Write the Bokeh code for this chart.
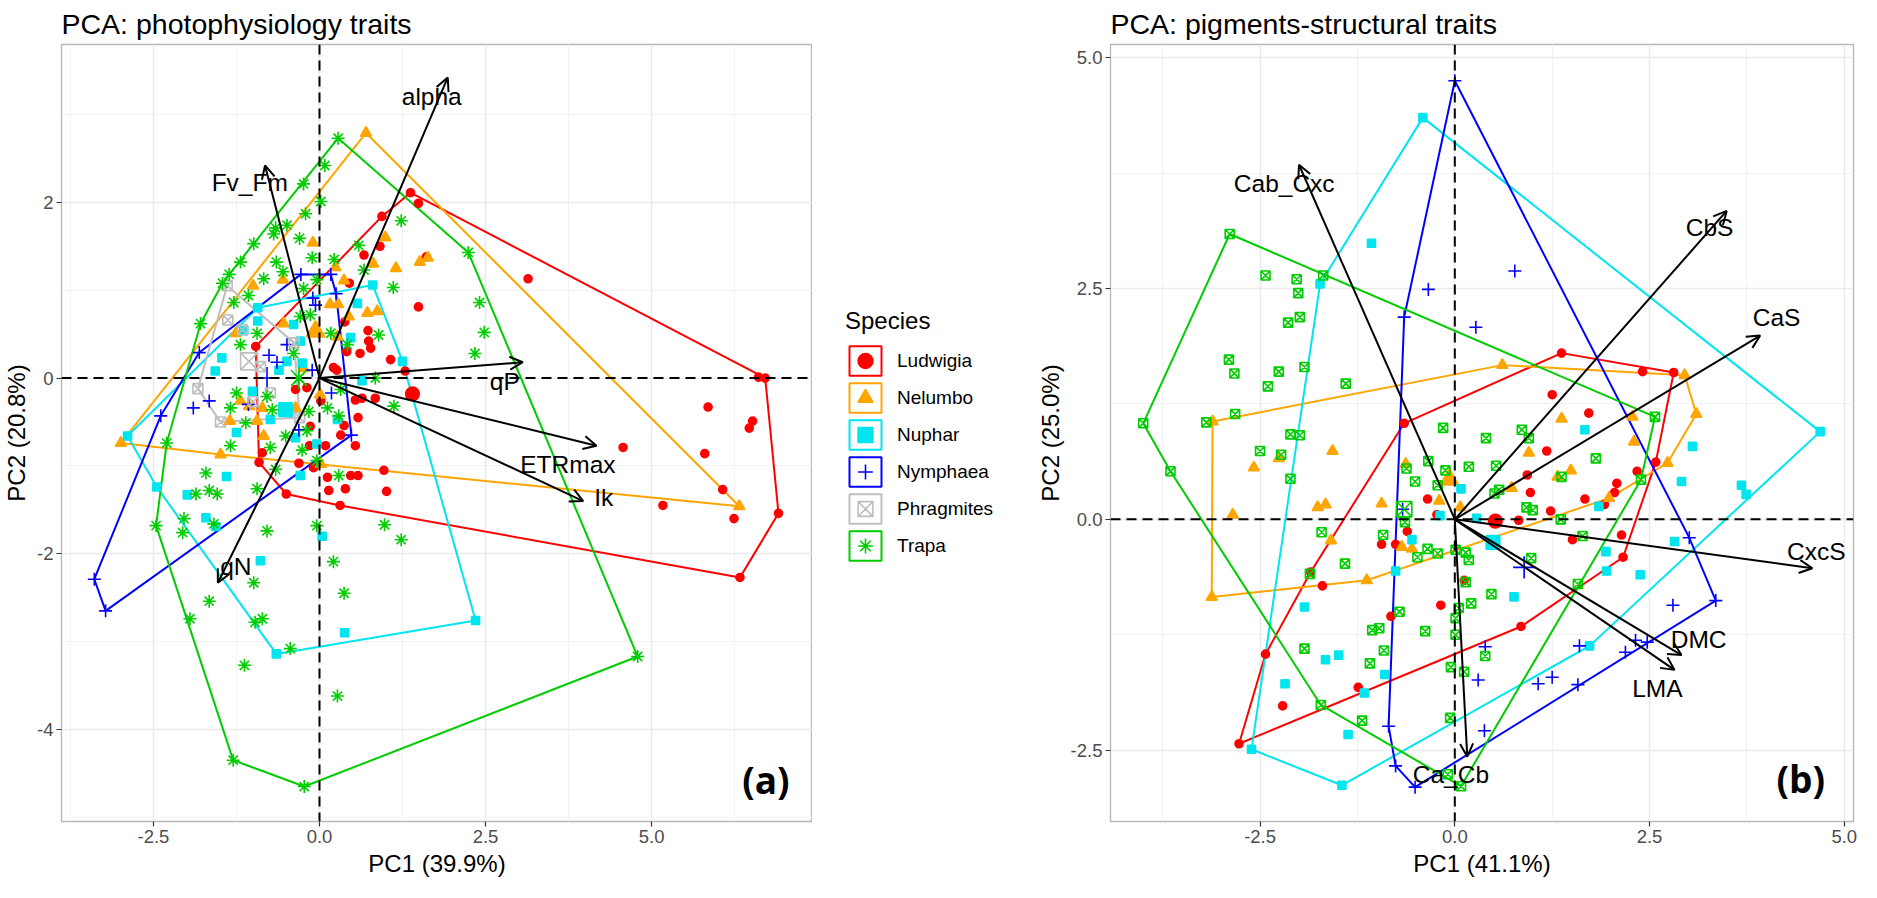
from bokeh.plotting import figure
from bokeh.models import (Range1d, FixedTicker, Span, Arrow, OpenHead, ColumnDataSource,
                          Legend, LegendItem)
from bokeh.layouts import row
from bokeh.embed import file_html
from bokeh.resources import INLINE
from bokeh.core.properties import value

FONT = "Liberation Sans"

SPECIES = ["Ludwigia", "Nelumbo", "Nuphar", "Nymphaea", "Phragmites", "Trapa"]
COLORS = {"Ludwigia": "#FF0000", "Nelumbo": "#FFA500", "Nuphar": "#00E5EE",
          "Nymphaea": "#0000FF", "Phragmites": "#BEBEBE", "Trapa": "#00CD00"}

# ---------------- Panel (a): photophysiology traits ----------------
A_LUDWIGIA = [(-0.96, 0.36), (0.94, 1.84), (1.37, 2.11), (1.49, 1.99), (6.61, 0.01), (6.71, 0.0),
              (6.91, -1.54), (6.33, -2.27), (0.31, -1.45), (-0.50, -1.32), (-0.91, -0.96), (0.67, 1.40),
              (0.91, 1.50), (1.61, 1.38), (0.45, 1.08), (1.49, 0.81), (0.38, 0.64), (0.73, 0.54),
              (0.74, 0.42), (0.77, 0.34), (0.61, 0.28), (0.41, 0.30), (1.07, 0.21), (0.21, 0.12),
              (0.26, 0.09), (-0.36, -0.13), (-0.19, -0.11), (0.02, -0.26), (0.54, -0.25), (0.64, -0.23),
              (0.84, -0.23), (0.58, -0.45), (0.37, -0.54), (0.32, -0.65), (0.54, -0.77), (-0.15, -0.77),
              (0.09, -0.77), (-0.14, -0.55), (-0.31, -0.97), (-0.09, -1.02), (0.12, -1.13), (0.14, -1.28),
              (0.39, -1.26), (0.47, -1.11), (0.58, -1.11), (0.97, -1.05), (1.01, -1.29), (-0.86, -0.85),
              (1.29, 0.08), (3.14, 1.13), (5.85, -0.33), (6.52, -0.49), (6.47, -0.57), (4.57, -0.79),
              (5.80, -0.86), (6.07, -1.27), (5.17, -1.45), (6.24, -1.60)]
A_NELUMBO = [(0.70, 2.79), (6.32, -1.46), (0.02, -0.98), (-1.49, -0.87), (-2.99, -0.74), (-0.10, 1.54),
             (0.99, 1.60), (0.81, 1.30), (1.15, 1.25), (1.51, 1.32), (1.63, 1.37), (0.24, 1.26),
             (-0.55, 1.12), (-1.00, 1.05), (0.37, 1.11), (0.16, 0.84), (0.28, 0.84), (0.72, 0.74),
             (0.87, 0.76), (0.44, 0.70), (-0.54, 0.62), (-1.26, 0.51), (0.27, 0.47), (-1.19, -0.26),
             (-1.06, -0.32), (-0.86, -0.34), (-0.94, -0.49), (-1.35, -0.49), (-0.84, -0.66),
             (-0.36, -0.34), (0.01, -0.19), (-0.24, 0.11)]
A_NUPHAR = [(-0.93, 0.80), (0.80, 1.06), (1.25, 0.19), (2.35, -2.76), (-0.65, -3.14), (-2.89, -0.66),
            (0.57, 0.85), (0.47, 0.46), (-0.29, 0.42), (-0.39, 0.61), (-0.93, 0.65), (-1.14, 0.54),
            (-1.47, 0.23), (-1.57, 0.08), (-1.01, -0.15), (-0.61, 0.09), (-0.49, 0.19), (-0.26, 0.17),
            (-0.74, -0.47), (-1.25, -0.62), (-0.36, -0.68), (0.27, -0.47), (-0.04, -0.75), (-0.29, -1.11),
            (-1.40, -1.12), (-1.99, -1.33), (-2.45, -1.24), (-1.71, -1.59), (-1.56, -1.69), (0.04, -1.80),
            (0.64, -0.03), (-0.89, -2.08), (0.38, -2.90)]
A_NYMPHAEA = [(-0.28, 1.18), (0.17, 1.18), (0.25, 0.96), (0.48, -0.65), (-3.22, -2.65), (-3.39, -2.29),
              (-2.39, -0.43), (-1.81, 0.29), (-0.10, 0.91), (-0.06, 0.83), (-0.49, 0.38), (-0.76, 0.26),
              (-0.64, 0.18), (-0.11, 0.09), (0.18, -0.17), (-0.31, -0.59), (-1.66, -0.26), (-1.90, -0.34),
              (-1.07, -0.30)]
A_PHRAGMITES = [(-1.39, 1.05), (-0.38, 0.40), (-0.30, -0.45), (-1.49, -0.50), (-1.83, -0.12),
                (-1.38, 0.66), (-1.16, 0.55), (-0.89, 0.13), (-0.74, -0.17), (-1.00, -0.27)]
A_TRAPA = [(0.28, 2.73), (2.24, 1.43), (4.79, -3.17), (-0.23, -4.65), (-1.30, -4.35), (-2.46, -1.68),
           (-2.30, -0.74), (-1.79, 0.62), (-1.46, 1.08), (-0.99, 1.53), (-0.24, 2.21), (0.08, 2.42),
           (0.02, 2.01), (-0.21, 1.87), (-0.66, 1.71), (-0.49, 1.74), (-0.30, 1.59), (-0.69, 1.64),
           (-1.19, 1.32), (-1.36, 1.18), (-0.65, 1.32), (-0.55, 1.21), (-0.84, 1.13), (-1.07, 0.94),
           (-1.29, 0.86), (-0.11, 1.37), (0.22, 1.35), (0.59, 1.51), (1.23, 1.79), (0.67, 1.23),
           (1.11, 1.03), (-0.04, 1.12), (-0.24, 1.02), (-0.14, 0.72), (-0.29, 0.70), (0.17, 0.51),
           (0.89, 0.49), (0.42, 0.38), (-0.94, 0.51), (-1.19, 0.38), (-0.39, 0.28), (-0.31, 0.0),
           (0.84, 0.0), (0.32, -0.13), (-1.25, -0.17), (-1.34, -0.34), (-0.79, -0.21), (-0.71, -0.36),
           (-1.11, -0.51), (-0.16, -0.38), (0.12, -0.34), (0.29, -0.43), (1.12, -0.32), (-0.19, -0.60),
           (-0.51, -0.66), (-0.74, -0.79), (-1.34, -0.77), (-0.26, -0.82), (-0.04, -0.94), (-0.66, -1.04),
           (0.29, -1.11), (-1.71, -1.08), (-1.66, -1.28), (-1.54, -1.32), (-1.86, -1.32), (-0.94, -1.26),
           (-2.04, -1.60), (-2.06, -1.76), (-1.59, -1.66), (-0.79, -1.74), (-0.04, -1.68), (0.98, -1.67),
           (1.23, -1.84), (2.41, 0.86), (2.48, 0.52), (2.34, 0.28), (0.21, -2.09), (0.37, -2.45),
           (-0.99, -2.33), (-1.66, -2.54), (-1.95, -2.74), (-0.86, -2.74), (-0.97, -2.78), (-0.44, -3.08),
           (-1.13, -3.27), (0.27, -3.62)]
A_CENTROIDS = {"Ludwigia": (1.40, -0.18), "Nelumbo": (-0.06, 0.53), "Nuphar": (-0.51, -0.36),
               "Nymphaea": (-0.79, 0.0), "Phragmites": (-1.06, 0.19), "Trapa": (-0.31, 0.0)}

A_VARS = ["alpha", "Fv_Fm", "qP", "ETRmax", "Ik", "qN"]
A_LOAD_PC1 = [1.93, -0.82, 3.06, 4.17, 3.97, -1.53]
A_LOAD_PC2 = [3.42, 2.42, 0.18, -0.77, -1.40, -2.33]
A_LABEL_PC1 = [1.69, -1.05, 2.79, 3.74, 4.28, -1.26]
A_LABEL_PC2 = [3.20, 2.23, -0.04, -0.98, -1.36, -2.14]

# ---------------- Panel (b): pigments-structural traits ----------------
B_LUDWIGIA = [(1.37, 1.80), (2.41, 1.60), (2.81, 1.59), (2.58, 0.62), (2.16, -0.41), (0.85, -1.16),
              (-2.77, -2.43), (-2.43, -1.46), (-1.85, -0.57), (-0.65, 1.04), (1.25, 1.35), (1.72, 1.15),
              (1.18, 0.74), (0.93, 0.48), (0.97, 0.29), (1.23, 0.09), (1.67, 0.22), (1.92, 0.16),
              (2.05, 0.29), (2.08, 0.39), (2.34, 0.52), (0.82, -0.01), (1.51, -0.22), (2.14, -0.17),
              (-0.35, 0.22), (-0.23, 0.05), (-0.61, -0.13), (-0.94, -0.27), (-0.76, -0.27), (-1.70, -0.72),
              (-0.18, -0.93), (-0.82, -1.05), (-1.24, -1.82), (-2.21, -2.02), (0.12, -0.66)]
B_NELUMBO = [(0.61, 1.67), (2.95, 1.56), (3.10, 1.14), (2.73, 0.61), (1.98, 0.23), (-1.13, -0.66),
             (-3.12, -0.84), (-3.11, 1.06), (1.37, 1.09), (2.28, 1.11), (2.30, 0.84), (0.95, 0.72),
             (0.73, 0.34), (1.32, 0.46), (1.49, 0.53), (-2.58, 0.56), (-2.26, 0.66), (-1.57, 0.74),
             (-2.85, 0.05), (-1.76, 0.13), (-1.66, 0.16), (-0.94, 0.17), (-0.63, 0.60), (-0.20, 0.20),
             (0.07, 0.13), (-1.59, -0.23), (-0.68, -0.30), (-0.55, -0.32)]
B_NUPHAR = [(-0.41, 4.35), (4.69, 0.95), (1.73, -1.37), (-1.45, -2.88), (-2.61, -2.49), (-1.73, 2.55),
            (-1.07, 2.99), (1.67, 0.97), (3.05, 0.79), (2.91, 0.41), (3.68, 0.37), (3.74, 0.27),
            (1.85, 0.14), (2.82, -0.24), (1.94, -0.35), (1.95, -0.56), (2.38, -0.60), (0.76, -0.84),
            (0.28, 0.01), (0.08, 0.33), (-0.55, -0.22), (-0.76, -0.56), (-1.93, -0.95), (-1.66, -1.52),
            (-1.49, -1.47), (-2.18, -1.78), (-0.90, -1.68), (-1.16, -1.88), (-1.37, -2.33), (-0.19, 0.04)]
B_NYMPHAEA = [(0.0, 4.75), (3.35, -0.88), (-0.51, -2.90), (-0.76, -2.67), (-0.85, -2.24), (-0.65, 2.19),
              (-0.34, 2.49), (0.27, 2.08), (0.77, 2.69), (0.39, -1.38), (0.30, -1.74), (0.38, -2.29),
              (3.01, -0.20), (2.80, -0.93), (2.32, -1.31), (2.47, -1.33), (2.19, -1.44), (1.60, -1.37),
              (1.07, -1.78), (1.25, -1.71), (1.58, -1.79), (-0.67, 0.11)]
B_TRAPA = [(-2.89, 3.09), (2.57, 1.11), (2.39, 0.43), (0.08, -2.89), (-0.09, -2.76), (-1.72, -2.01),
           (-3.65, 0.52), (-4.00, 1.04), (-2.43, 2.64), (-2.03, 2.60), (-2.01, 2.45), (-1.69, 2.64),
           (-2.14, 2.13), (-1.99, 2.19), (-2.90, 1.73), (-2.83, 1.58), (-2.26, 1.60), (-1.93, 1.65),
           (-2.40, 1.44), (-1.40, 1.47), (-2.82, 1.14), (-3.19, 1.05), (-2.11, 0.92), (-1.99, 0.91),
           (-0.15, 0.99), (0.40, 0.88), (-2.50, 0.74), (-2.23, 0.70), (-2.11, 0.44), (-0.34, 0.63),
           (-0.12, 0.53), (0.18, 0.57), (-0.62, 0.55), (-0.51, 0.41), (-0.22, 0.37), (-0.64, -0.03),
           (-1.71, -0.14), (-0.92, -0.17), (-0.35, -0.32), (-0.48, -0.41), (-0.22, -0.37), (0.01, -0.33),
           (0.14, -0.36), (0.18, -0.44), (-1.41, -0.48), (-1.86, -0.59), (0.14, -0.68), (0.21, -0.91),
           (0.05, -0.96), (-0.71, -1.00), (0.01, -1.07), (-0.97, -1.18), (-1.06, -1.20), (-0.38, -1.21),
           (0.01, -1.25), (-1.93, -1.40), (-0.91, -1.42), (-1.09, -1.56), (-0.05, -1.60), (0.12, -1.65),
           (0.39, -1.48), (-1.19, -2.18), (-0.06, -2.15), (0.86, 0.97), (0.95, 0.88), (0.53, 0.58),
           (0.51, 0.28), (0.57, 0.32), (1.37, 0.46), (1.81, 0.66), (0.92, 0.13), (1.00, 0.10),
           (1.36, 0.0), (1.64, -0.18), (0.98, -0.42), (1.58, -0.70), (0.47, -0.81)]
B_CENTROIDS = {"Ludwigia": (0.52, -0.02), "Nelumbo": (-0.07, 0.43), "Nuphar": (0.49, -0.25),
               "Nymphaea": (0.89, -0.52), "Trapa": (-0.65, 0.11)}

B_VARS = ["Cab_Cxc", "CbS", "CaS", "CxcS", "DMC", "LMA", "Ca_Cb"]
B_LOAD_PC1 = [-2.00, 3.49, 3.92, 4.59, 2.91, 2.82, 0.16]
B_LOAD_PC2 = [3.84, 3.34, 1.99, -0.53, -1.47, -1.63, -2.57]
B_LABEL_PC1 = [-2.19, 3.27, 4.13, 4.64, 3.13, 2.60, -0.05]
B_LABEL_PC2 = [3.64, 3.16, 2.19, -0.35, -1.30, -1.83, -2.76]

A_SPECIES = {"Ludwigia": A_LUDWIGIA, "Nelumbo": A_NELUMBO, "Nuphar": A_NUPHAR,
             "Nymphaea": A_NYMPHAEA, "Phragmites": A_PHRAGMITES, "Trapa": A_TRAPA}
B_SPECIES = {"Ludwigia": B_LUDWIGIA, "Nelumbo": B_NELUMBO, "Nuphar": B_NUPHAR,
             "Nymphaea": B_NYMPHAEA, "Trapa": B_TRAPA}

MARKERS_A = {"Ludwigia": ("circle", 8, True), "Nelumbo": ("triangle", 11, True),
             "Nuphar": ("square", 8, True), "Nymphaea": ("cross", 13, False),
             "Phragmites": ("square_x", 10, False), "Trapa": ("asterisk", 13, False)}
MARKERS_B = dict(MARKERS_A)
MARKERS_B["Trapa"] = ("square_x", 9, False)


def convex_hull(pts):
    pts = sorted(set(pts))
    if len(pts) < 3:
        return pts

    def cross(o, a, b):
        return (a[0] - o[0]) * (b[1] - o[1]) - (a[1] - o[1]) * (b[0] - o[0])
    lower, upper = [], []
    for p in pts:
        while len(lower) >= 2 and cross(lower[-2], lower[-1], p) <= 0:
            lower.pop()
        lower.append(p)
    for p in reversed(pts):
        while len(upper) >= 2 and cross(upper[-2], upper[-1], p) <= 0:
            upper.pop()
        upper.append(p)
    return lower[:-1] + upper[:-1]


def style(p, xticks, xminor, xlabels, yticks, yminor, ylabels, xlab, ylab):
    p.xaxis.ticker = FixedTicker(ticks=xticks, minor_ticks=xminor)
    p.yaxis.ticker = FixedTicker(ticks=yticks, minor_ticks=yminor)
    p.xaxis.major_label_overrides = dict(zip(xticks, xlabels))
    p.yaxis.major_label_overrides = dict(zip(yticks, ylabels))
    p.xaxis.axis_label = xlab
    p.yaxis.axis_label = ylab
    for ax in (p.xaxis[0], p.yaxis[0]):
        ax.axis_line_color = None
        ax.minor_tick_line_color = None
        ax.major_tick_line_color = "#333333"
        ax.major_tick_line_width = 1.2
        ax.major_tick_out = 5
        ax.major_tick_in = 0
        ax.major_label_text_font = FONT
        ax.major_label_text_font_size = "18.5px"
        ax.major_label_text_color = "#4D4D4D"
        ax.major_label_standoff = 3
        ax.axis_label_text_font = FONT
        ax.axis_label_text_font_size = "24px"
        ax.axis_label_text_font_style = "normal"
        ax.axis_label_text_color = "black"
        ax.axis_label_standoff = 4
    for g in (p.xgrid[0], p.ygrid[0]):
        g.grid_line_color = "#EBEBEB"
        g.grid_line_width = 1.6
        g.minor_grid_line_color = "#F2F2F2"
        g.minor_grid_line_width = 1.0
    p.outline_line_color = "#B8B8B8"
    p.outline_line_width = 1.4
    p.background_fill_color = "white"
    p.border_fill_color = "white"
    p.title.text_font = FONT
    p.title.text_font_size = "28.5px"
    p.title.text_font_style = "normal"
    p.title.text_color = "black"
    p.title.align = "left"
    p.title.standoff = 10


def scatter_kw(sp, markers):
    col = COLORS[sp]
    mk, sz, filled = markers[sp]
    kw = dict(marker=mk, size=sz, line_color=col, line_width=1.6)
    kw["fill_color"] = col if filled else None
    return kw


def draw_panel(p, species, markers, centroids, vars_, lpc1, lpc2, labx, laby, tag, tagx, tagy):
    for sp, pts in species.items():
        col = COLORS[sp]
        h = convex_hull(pts)
        p.patch([q[0] for q in h], [q[1] for q in h], fill_color=None,
                line_color=col, line_width=2)
    for sp, pts in species.items():
        kw = scatter_kw(sp, markers)
        p.scatter([q[0] for q in pts], [q[1] for q in pts], **kw)
        if sp in centroids:
            c = centroids[sp]
            ck = dict(kw)
            ck["size"] = kw["size"] * 1.7
            p.scatter([c[0]], [c[1]], **ck)
    p.add_layout(Span(location=0, dimension="height", line_color="black",
                      line_dash="10 6", line_width=2))
    p.add_layout(Span(location=0, dimension="width", line_color="black",
                      line_dash="10 6", line_width=2))
    src = ColumnDataSource(dict(x0=[0.0] * len(vars_), y0=[0.0] * len(vars_), x1=lpc1, y1=lpc2))
    p.add_layout(Arrow(end=OpenHead(size=13, line_width=2, line_color="black"),
                       x_start="x0", y_start="y0", x_end="x1", y_end="y1", source=src,
                       line_width=2, line_color="black"))
    p.text(x=labx, y=laby, text=vars_, text_font=value(FONT), text_font_size="24.5px",
           text_align="center", text_baseline="middle", text_color="black")
    p.text(x=[tagx], y=[tagy], text=[tag], text_font=value("Open Sans"), text_font_size="37px",
           text_font_style="bold", text_align="center", text_baseline="middle", text_color="black")


# ---- panel (a) ----
FRAME_A_W = 753
P1_W = 59 + FRAME_A_W
p1 = figure(width=P1_W, height=882, x_range=Range1d(-3.884, 7.422),
            y_range=Range1d(-5.048, 3.797), output_backend="svg", toolbar_location=None,
            min_border_left=59, min_border_right=0, min_border_top=40, min_border_bottom=61,
            title="PCA: photophysiology traits")
style(p1, [-2.5, 0, 2.5, 5], [-3.75, -1.25, 1.25, 3.75, 6.25], ["-2.5", "0.0", "2.5", "5.0"],
      [-4, -2, 0, 2], [-5, -3, -1, 1, 3], ["-4", "-2", "0", "2"], "PC1 (39.9%)", "PC2 (20.8%)")
draw_panel(p1, A_SPECIES, MARKERS_A, A_CENTROIDS, A_VARS, A_LOAD_PC1, A_LOAD_PC2,
           A_LABEL_PC1, A_LABEL_PC2, "(a)", 6.72, -4.57)

# ---- legend strip: hidden copies of the panel (a) hulls and points act as legend keys ----
P2_LEFT = 108
P3_W = 1118 - P2_LEFT - (8 + P1_W)
p3 = figure(width=P3_W, height=882, x_range=Range1d(-3.884, 7.422), y_range=Range1d(-5.048, 3.797),
            output_backend="svg", toolbar_location=None, x_axis_type=None, y_axis_type=None,
            min_border=0, outline_line_color=None)
p3.xgrid.visible = False
p3.ygrid.visible = False
items = []
for sp in SPECIES:
    pts = A_SPECIES[sp]
    h = convex_hull(pts)
    box = p3.patch([q[0] for q in h], [q[1] for q in h], fill_color=None,
                   line_color=COLORS[sp], line_width=2, visible=False)
    mark = p3.scatter([q[0] for q in pts], [q[1] for q in pts], visible=False,
                      **scatter_kw(sp, MARKERS_A))
    items.append(LegendItem(label=sp, renderers=[box, mark]))
legend = Legend(items=items, location=(33, 257), title="Species",
                title_text_font=FONT, title_text_font_size="24px", title_text_font_style="normal",
                title_text_color="black", title_standoff=7,
                label_text_font=FONT, label_text_font_size="19px", label_text_color="black",
                glyph_width=40, glyph_height=37, spacing=0, label_standoff=12,
                padding=0, margin=0, border_line_color=None, background_fill_alpha=0,
                inactive_fill_alpha=0)
p3.add_layout(legend, "center")

# ---- panel (b) ----
p2 = figure(width=P2_LEFT + 743 + 8, height=882, x_range=Range1d(-4.42, 5.118),
            y_range=Range1d(-3.272, 5.142), output_backend="svg", toolbar_location=None,
            min_border_left=P2_LEFT, min_border_right=8, min_border_top=40, min_border_bottom=61,
            title="PCA: pigments-structural traits")
style(p2, [-2.5, 0, 2.5, 5], [-3.75, -1.25, 1.25, 3.75], ["-2.5", "0.0", "2.5", "5.0"],
      [-2.5, 0, 2.5, 5], [-1.25, 1.25, 3.75], ["-2.5", "0.0", "2.5", "5.0"],
      "PC1 (41.1%)", "PC2 (25.0%)")
draw_panel(p2, B_SPECIES, MARKERS_B, B_CENTROIDS, B_VARS, B_LOAD_PC1, B_LOAD_PC2,
           B_LABEL_PC1, B_LABEL_PC2, "(b)", 4.44, -2.81)

layout = row(p1, p3, p2)
open("out.html", "w").write(file_html(layout, INLINE))
